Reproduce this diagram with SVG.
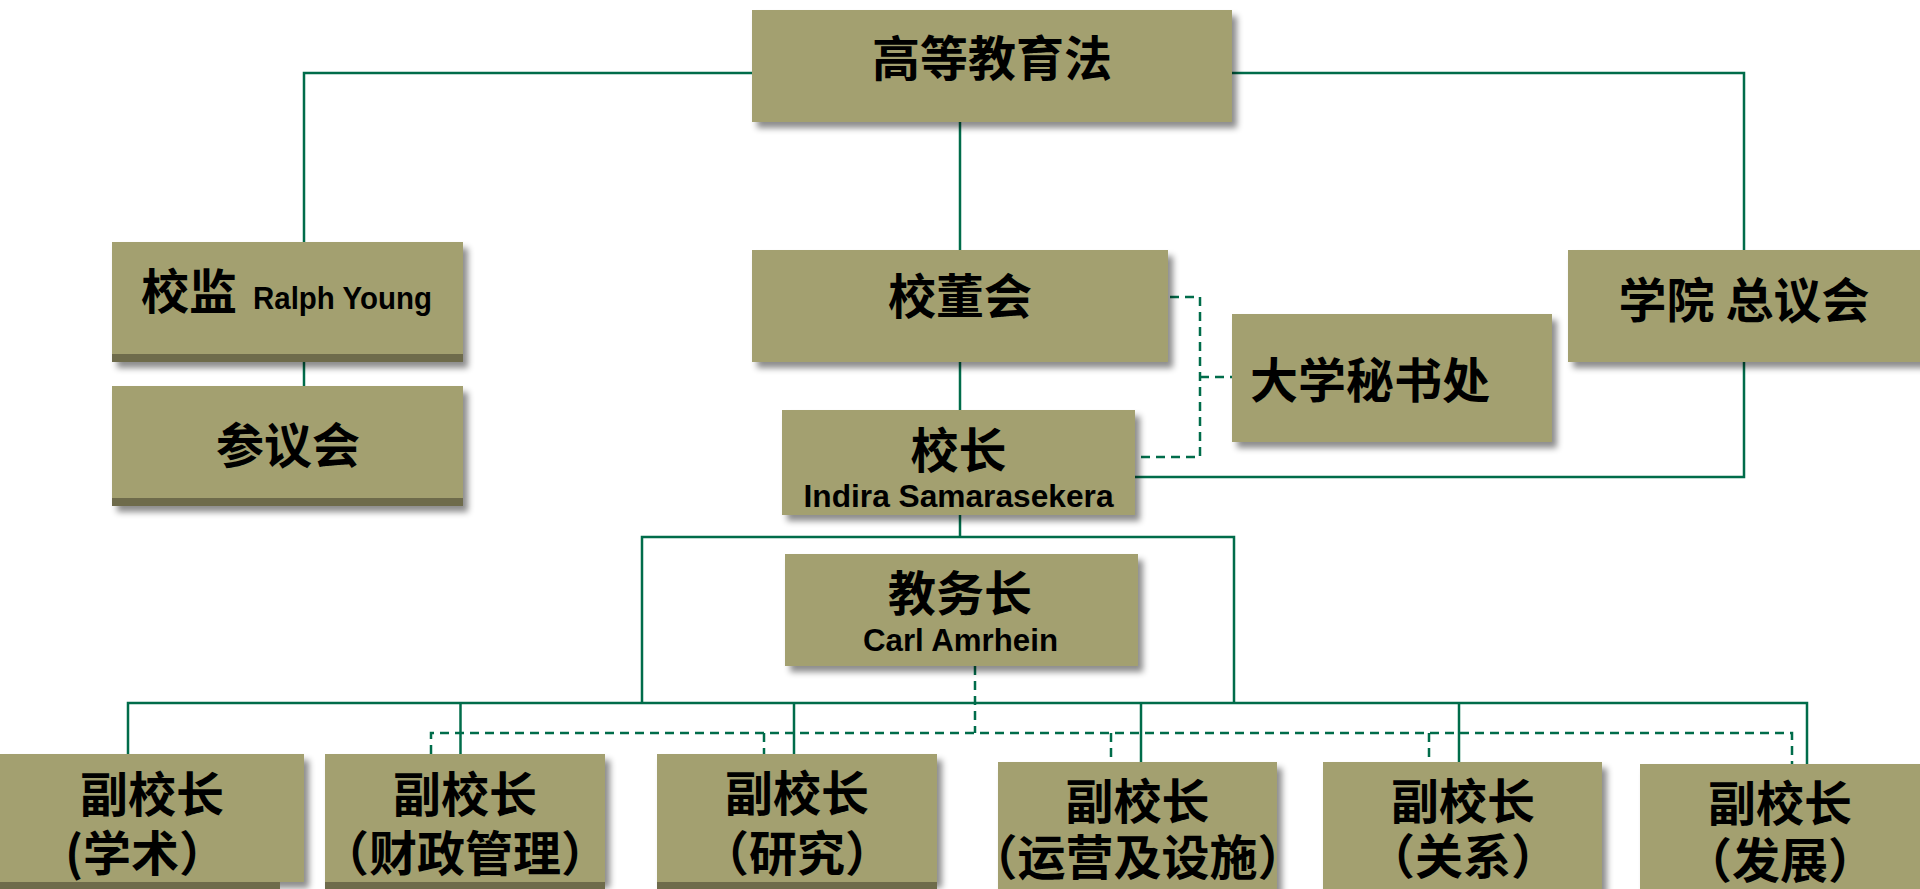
<svg xmlns="http://www.w3.org/2000/svg" width="1920" height="889" viewBox="0 0 1920 889">
<style>
.box{fill:#A3A070;filter:url(#sh)}
.band{fill:#6E6B4B}
.zh{font-family:"Noto Sans CJK SC","Liberation Sans",sans-serif;font-weight:700;font-size:48px;fill:#000}
.en{font-family:"Liberation Sans","Noto Sans CJK SC",sans-serif;font-weight:700;font-size:31px;fill:#000}
.c{text-anchor:middle}
.solid{fill:none;stroke:#006C4A;stroke-width:2.5}
.dash{fill:none;stroke:#006C4A;stroke-width:2.5;stroke-dasharray:9 6}
</style>
<defs>
<filter id="sh" x="-5%" y="-10%" width="115%" height="130%">
<feDropShadow dx="5" dy="6" stdDeviation="3" flood-color="#000" flood-opacity="0.45"/>
</filter>
</defs>
<rect width="1920" height="889" fill="#fff"/>
<g id="connectors">
<path class="solid" d="M304,242 V73 H752"/>
<path class="solid" d="M1232,73 H1744 V250"/>
<path class="solid" d="M960,122 V250"/>
<path class="solid" d="M960,362 V410"/>
<path class="solid" d="M304,362 V386"/>
<path class="solid" d="M1744,362 V477 H1135"/>
<path class="solid" d="M960,515 V537"/>
<path class="solid" d="M642,703 V537 H1234 V703"/>
<path class="solid" d="M128,754 V703 H1807 V764"/>
<path class="solid" d="M460.5,703 V754"/>
<path class="solid" d="M794,703 V754"/>
<path class="solid" d="M1141,703 V762"/>
<path class="solid" d="M1459,703 V762"/>
<path class="dash" d="M1170,297 H1200 V457 H1135"/>
<path class="dash" d="M1200,377 H1232"/>
<path class="dash" d="M975,666 V733"/>
<path class="dash" d="M431,754 V733 H1792 V764"/>
<path class="dash" d="M764,733 V754"/>
<path class="dash" d="M1111,733 V762"/>
<path class="dash" d="M1429,733 V762"/>
</g>
<g id="n-law">
<rect class="box" x="752" y="10" width="480" height="112"/>
<text class="zh c" x="992" y="76">高等教育法</text>
</g>
<g id="n-chancellor">
<rect class="box" x="112" y="242" width="351" height="120"/>
<rect class="band" x="112" y="354" width="351" height="8"/>
<text class="zh" x="141" y="309">校监<tspan class="en" x="253" font-size="30" textLength="179" lengthAdjust="spacingAndGlyphs">Ralph Young</tspan></text>
</g>
<g id="n-senate">
<rect class="box" x="112" y="386" width="351" height="120"/>
<rect class="band" x="112" y="498" width="351" height="8"/>
<text class="zh c" x="288" y="463">参议会</text>
</g>
<g id="n-board">
<rect class="box" x="752" y="250" width="416" height="112"/>
<text class="zh c" x="960" y="314" font-size="54">校董会</text>
</g>
<g id="n-secretariat">
<rect class="box" x="1232" y="314" width="320" height="128"/>
<text class="zh" x="1250" y="398">大学秘书处</text>
</g>
<g id="n-council">
<rect class="box" x="1568" y="250" width="360" height="112"/>
<text class="zh c" x="1744" y="318">学院 总议会</text>
</g>
<g id="n-president">
<rect class="box" x="782" y="410" width="353" height="105"/>
<text class="zh c" x="958.5" y="468">校长<tspan class="en" x="958.5" y="507" textLength="310" lengthAdjust="spacingAndGlyphs">Indira Samarasekera</tspan></text>
</g>
<g id="n-provost">
<rect class="box" x="785" y="554" width="353" height="112"/>
<text class="zh c" x="960" y="611">教务长<tspan class="en" x="960.5" y="651" textLength="195" lengthAdjust="spacingAndGlyphs">Carl Amrhein</tspan></text>
</g>
<g id="n-vp1">
<rect class="box" x="0" y="754" width="304" height="128"/>
<rect class="band" x="0" y="882" width="280" height="7"/>
<text class="zh c" x="152" y="812">副校长<tspan x="146" y="871">(学术）</tspan></text>
</g>
<g id="n-vp2">
<rect class="box" x="325" y="754" width="280" height="128"/>
<rect class="band" x="325" y="882" width="280" height="7"/>
<text class="zh c" x="465" y="812">副校长<tspan x="465" y="871">（财政管理）</tspan></text>
</g>
<g id="n-vp3">
<rect class="box" x="657" y="754" width="280" height="128"/>
<rect class="band" x="657" y="882" width="280" height="7"/>
<text class="zh c" x="797" y="811">副校长<tspan x="797" y="871">（研究）</tspan></text>
</g>
<g id="n-vp4">
<rect class="box" x="998" y="762" width="279" height="140"/>
<text class="zh c" x="1137.5" y="819">副校长<tspan x="1137.5" y="875">（运营及设施）</tspan></text>
</g>
<g id="n-vp5">
<rect class="box" x="1323" y="762" width="279" height="140"/>
<text class="zh c" x="1463" y="819">副校长<tspan x="1463" y="874">（关系）</tspan></text>
</g>
<g id="n-vp6">
<rect class="box" x="1640" y="764" width="290" height="140"/>
<text class="zh c" x="1780" y="821">副校长<tspan x="1780" y="878">（发展）</tspan></text>
</g>
</svg>
